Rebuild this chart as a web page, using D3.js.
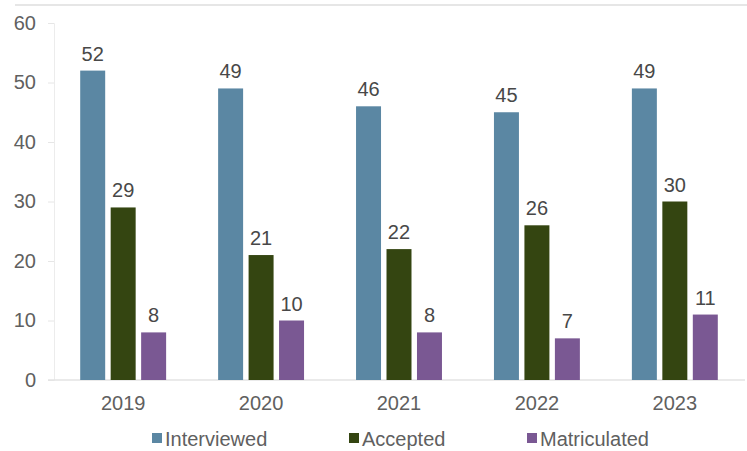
<!DOCTYPE html>
<html>
<head>
<meta charset="utf-8">
<script src="https://cdn.jsdelivr.net/npm/d3@7"></script>
<style>
  body { margin: 0; background: #fff; }
  text { font-family: "Liberation Sans", Arial, sans-serif; }
</style>
</head>
<body>
<div id="chart"></div>
<script>
const years = ["2019", "2020", "2021", "2022", "2023"];
const seriesNames = ["Interviewed", "Accepted", "Matriculated"];
const interviewed = [52, 49, 46, 45, 49];
const accepted = [29, 21, 22, 26, 30];
const matriculated = [8, 10, 8, 7, 11];
const yTicks = [0, 10, 20, 30, 40, 50, 60];
const colors = ["#5b87a3", "#344511", "#7a5893"];

const W = 747, H = 451;
const margin = { top: 23, right: 3, bottom: 71, left: 54 };
const fontSize = "20px";

const series = [interviewed, accepted, matriculated];
const rows = years.map((y, i) => ({ year: y, values: series.map((s, k) => ({ key: seriesNames[k], k: k, value: s[i] })) }));

const svg = d3.select("#chart").append("svg")
    .attr("width", W)
    .attr("height", H);

// faint top border line
svg.append("line")
    .attr("x1", 15).attr("x2", W)
    .attr("y1", 5).attr("y2", 5)
    .style("stroke", "#e6e6e6")
    .style("stroke-width", 2);

const x0 = d3.scaleBand()
    .domain(years)
    .range([margin.left, W - margin.right])
    .paddingInner(0.377)
    .paddingOuter(0.19);

const x1 = d3.scaleBand()
    .domain(seriesNames)
    .range([0, x0.bandwidth()])
    .paddingInner(0.18)
    .paddingOuter(0);

const y = d3.scaleLinear()
    .domain([0, 60])
    .range([380, margin.top]);

// y axis
const yAxis = svg.append("g")
    .attr("transform", `translate(${margin.left},0)`)
    .call(d3.axisLeft(y).tickValues(yTicks).tickSize(6).tickPadding(12));
yAxis.select(".domain").style("stroke", "#ececec");
yAxis.selectAll(".tick line").style("stroke", "#e6e6e6");
yAxis.selectAll(".tick text")
    .style("font-size", fontSize)
    .style("fill", "#606060");

// baseline
svg.append("line")
    .attr("x1", margin.left - 6).attr("x2", W - 2)
    .attr("y1", y(0)).attr("y2", y(0))
    .style("stroke", "#e3e3e3")
    .style("stroke-width", 1.5);

const groups = svg.selectAll(".yearGroup")
    .data(rows)
    .enter()
    .append("g")
    .attr("class", "yearGroup")
    .attr("transform", (d) => `translate(${x0(d.year)},0)`);

groups.selectAll("rect")
    .data((d) => d.values)
    .enter()
    .append("rect")
    .attr("x", (d) => x1(d.key))
    .attr("y", (d) => y(d.value))
    .attr("width", x1.bandwidth())
    .attr("height", (d) => y(0) - y(d.value))
    .style("fill", (d) => colors[d.k]);

groups.selectAll(".valueLabel")
    .data((d) => d.values)
    .enter()
    .append("text")
    .attr("class", "valueLabel")
    .attr("x", (d) => x1(d.key) + x1.bandwidth() / 2)
    .attr("y", (d) => y(d.value) - 10)
    .attr("text-anchor", "middle")
    .style("font-size", fontSize)
    .style("fill", "#484848")
    .text((d) => d.value);

// x labels
svg.selectAll(".xLabel")
    .data(years)
    .enter()
    .append("text")
    .attr("class", "xLabel")
    .attr("x", (d) => x0(d) + x0.bandwidth() / 2)
    .attr("y", 410)
    .attr("text-anchor", "middle")
    .style("font-size", fontSize)
    .style("fill", "#606060")
    .text((d) => d);

// legend
const legendX = [152, 349, 527];
const legend = svg.selectAll(".legendItem")
    .data(seriesNames)
    .enter()
    .append("g")
    .attr("class", "legendItem")
    .attr("transform", (d, i) => `translate(${legendX[i]},438)`);

legend.append("rect")
    .attr("x", 0).attr("y", -5)
    .attr("width", 10).attr("height", 10)
    .style("fill", (d, i) => colors[i]);

legend.append("text")
    .attr("x", 13)
    .attr("y", 8)
    .style("font-size", fontSize)
    .style("fill", "#606060")
    .text((d) => d);
</script>
</body>
</html>
